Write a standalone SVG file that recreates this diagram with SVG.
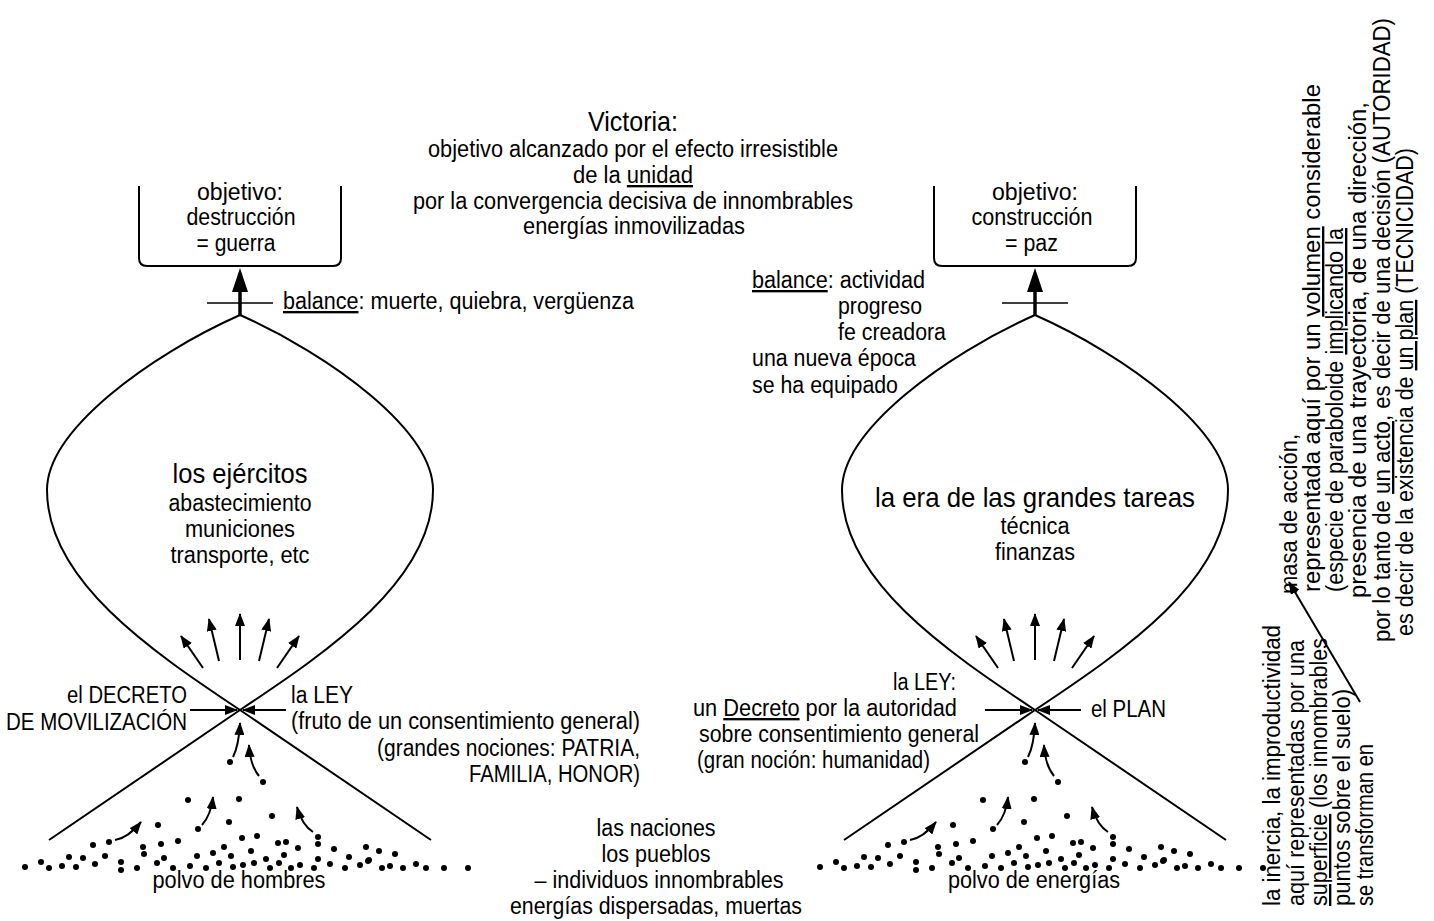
<svg xmlns="http://www.w3.org/2000/svg" xmlns:xlink="http://www.w3.org/1999/xlink" width="1434" height="921" viewBox="0 0 1434 921">
<style>
  text { font-family: "Liberation Sans", Arial, sans-serif; font-size: 23.5px; fill: #000; }
  .big { font-size: 28px; }
  .mid { text-anchor: middle; }
  .end { text-anchor: end; }
  .u { text-decoration: underline; }
  .v { font-size: 23.5px; }
  .ln { fill: none; stroke: #000; stroke-width: 2; }
  .ar { fill: none; stroke: #000; stroke-width: 2; marker-end: url(#ah); }
  .dot { fill: #000; }
</style>
<defs>
  <marker id="ah" viewBox="0 0 13 10" refX="12" refY="5" markerWidth="13" markerHeight="10" markerUnits="userSpaceOnUse" orient="auto">
    <path d="M0,0 L13,5 L0,10 z" fill="#000"/>
  </marker>
  <!-- goal bracket with the rising arrow, drawn round x = 240 -->
  <g id="goal-frame">
    <path class="ln" d="M139,186 L139,258 Q139,266 147,266 L333,266 Q341,266 341,258 L341,186"/>
    <path d="M240,316 L240,287" stroke="#000" stroke-width="3.5" fill="none"/>
    <polygon points="240,268 232,292 248,292" fill="#000"/>
    <path d="M207,303 L273,303" stroke="#000" stroke-width="1.5" fill="none"/>
  </g>
  <!-- the lens (mass of action) and the crossing lines -->
  <g id="lens-shape">
    <path class="ln" d="M240,315 C150,355 47,430 47,490 C47,580 150,650 240,710 L431,840"/>
    <path class="ln" d="M240,315 C330,355 433,430 433,490 C433,580 330,650 240,710 L49,840"/>
  </g>
  <!-- arrows fanning out above the crossing -->
  <g id="fan">
    <path class="ar" d="M203,668 L181,636"/>
    <path class="ar" d="M219,661 L209,619"/>
    <path class="ar" d="M240,660 L240,614"/>
    <path class="ar" d="M259,661 L269,619"/>
    <path class="ar" d="M277,668 L299,636"/>
    <path class="ar" d="M190,710 L237,710"/>
    <path class="ar" d="M286,710 L243,710"/>
  </g>
  <!-- curved arrows lifting particles from the ground -->
  <g id="lift">
    <path class="ar" d="M233,757 Q239,745 240,723"/>
    <path class="ar" d="M259,776 Q250,765 249,745"/>
    <path class="ar" d="M202,825 Q211,815 213,797"/>
    <path class="ar" d="M115,840 Q128,838 141,822"/>
    <path class="ar" d="M313,832 Q302,825 297,807"/>
  </g>
  <!-- scattered particles on the ground -->
  <g id="dust" class="dot">
    <circle cx="230" cy="762" r="3"/><circle cx="263" cy="782" r="3"/><circle cx="188" cy="800" r="3"/><circle cx="239" cy="799" r="3"/>
    <circle cx="229" cy="822" r="3"/><circle cx="272" cy="816" r="3"/><circle cx="158" cy="825" r="3"/><circle cx="198" cy="829" r="3"/>
    <circle cx="109" cy="842" r="3"/><circle cx="93" cy="845" r="3"/><circle cx="143" cy="847" r="3"/><circle cx="161" cy="844" r="3"/>
    <circle cx="178" cy="841" r="3"/><circle cx="144" cy="854" r="3"/><circle cx="242" cy="838" r="3"/><circle cx="257" cy="836" r="3"/>
    <circle cx="224" cy="847" r="3"/><circle cx="251" cy="851" r="3"/><circle cx="278" cy="843" r="3"/><circle cx="286" cy="842" r="3"/>
    <circle cx="298" cy="848" r="3"/><circle cx="318" cy="837" r="3"/><circle cx="318" cy="844" r="3"/><circle cx="334" cy="849" r="3"/>
    <circle cx="366" cy="847" r="3"/><circle cx="379" cy="851" r="3"/><circle cx="395" cy="854" r="3"/>
    <circle cx="69" cy="857" r="3"/><circle cx="83" cy="858" r="3"/><circle cx="105" cy="856" r="3"/><circle cx="164" cy="858" r="3"/>
    <circle cx="197" cy="856" r="3"/><circle cx="213" cy="853" r="3"/><circle cx="231" cy="856" r="3"/><circle cx="266" cy="859" r="3"/>
    <circle cx="284" cy="855" r="3"/><circle cx="318" cy="859" r="3"/><circle cx="349" cy="857" r="3"/><circle cx="369" cy="860" r="3"/>
    <circle cx="25" cy="867" r="3"/><circle cx="41" cy="862" r="3"/><circle cx="49" cy="868" r="3"/><circle cx="62" cy="866" r="3"/>
    <circle cx="76" cy="867" r="3"/><circle cx="95" cy="864" r="3"/><circle cx="121" cy="862" r="3"/><circle cx="121" cy="870" r="3"/>
    <circle cx="137" cy="868" r="3"/><circle cx="157" cy="863" r="3"/><circle cx="173" cy="868" r="3"/><circle cx="190" cy="866" r="3"/>
    <circle cx="206" cy="868" r="3"/><circle cx="219" cy="863" r="3"/><circle cx="233" cy="867" r="3"/><circle cx="243" cy="865" r="3"/>
    <circle cx="254" cy="863" r="3"/><circle cx="270" cy="868" r="3"/><circle cx="279" cy="863" r="3"/><circle cx="291" cy="868" r="3"/>
    <circle cx="300" cy="865" r="3"/><circle cx="314" cy="868" r="3"/><circle cx="330" cy="864" r="3"/><circle cx="345" cy="868" r="3"/>
    <circle cx="360" cy="865" r="3"/><circle cx="368" cy="861" r="3"/><circle cx="382" cy="868" r="3"/><circle cx="390" cy="866" r="3"/>
    <circle cx="403" cy="868" r="3"/><circle cx="416" cy="864" r="3"/><circle cx="426" cy="868" r="3"/><circle cx="444" cy="868" r="3"/>
    <circle cx="468" cy="868" r="3"/>
  </g>
</defs>

<rect width="1434" height="921" fill="#fff"/>

<!-- central heading -->
<g id="victoria">
  <text class="big mid" x="633" y="131" textLength="90" lengthAdjust="spacingAndGlyphs">Victoria:</text>
  <text class="mid" x="633" y="157" textLength="410" lengthAdjust="spacingAndGlyphs">objetivo alcanzado por el efecto irresistible</text>
  <text class="mid" x="633" y="183" textLength="120" lengthAdjust="spacingAndGlyphs">de la <tspan class="u">unidad</tspan></text>
  <text class="mid" x="633" y="209" textLength="440" lengthAdjust="spacingAndGlyphs">por la convergencia decisiva de innombrables</text>
  <text class="mid" x="634" y="234" textLength="222" lengthAdjust="spacingAndGlyphs">energías inmovilizadas</text>
</g>

<!-- ===== war side ===== -->
<g id="war-goal">
  <use xlink:href="#goal-frame"/>
  <text class="mid" x="240" y="200" textLength="86" lengthAdjust="spacingAndGlyphs">objetivo:</text>
  <text class="mid" x="241" y="225" textLength="109" lengthAdjust="spacingAndGlyphs">destrucción</text>
  <text class="mid" x="236" y="251" textLength="79" lengthAdjust="spacingAndGlyphs">= guerra</text>
</g>
<g id="war-balance">
  <text x="283" y="309" textLength="351" lengthAdjust="spacingAndGlyphs"><tspan class="u">balance</tspan>: muerte, quiebra, vergüenza</text>
</g>
<g id="war-mass">
  <use xlink:href="#lens-shape"/>
  <text class="big mid" x="240" y="483" textLength="135" lengthAdjust="spacingAndGlyphs">los ejércitos</text>
  <text class="mid" x="240" y="511" textLength="143" lengthAdjust="spacingAndGlyphs">abastecimiento</text>
  <text class="mid" x="240" y="537" textLength="110" lengthAdjust="spacingAndGlyphs">municiones</text>
  <text class="mid" x="240" y="563" textLength="139" lengthAdjust="spacingAndGlyphs">transporte, etc</text>
</g>
<g id="war-crossing">
  <text class="end" x="187" y="703" textLength="120" lengthAdjust="spacingAndGlyphs">el DECRETO</text>
  <text class="end" x="187" y="730" textLength="181" lengthAdjust="spacingAndGlyphs">DE MOVILIZACIÓN</text>
  <text x="291" y="703" textLength="62" lengthAdjust="spacingAndGlyphs">la LEY</text>
  <text x="291" y="729" textLength="349" lengthAdjust="spacingAndGlyphs">(fruto de un consentimiento general)</text>
  <text class="end" x="640" y="756" textLength="263" lengthAdjust="spacingAndGlyphs">(grandes nociones: PATRIA,</text>
  <text class="end" x="640" y="782" textLength="171" lengthAdjust="spacingAndGlyphs">FAMILIA, HONOR)</text>
</g>
<g id="war-dust">
  <use xlink:href="#dust"/>
  <text class="mid" x="239" y="888" textLength="173" lengthAdjust="spacingAndGlyphs">polvo de hombres</text>
</g>

<!-- ground label between the two sides -->
<g id="nations">
  <text class="mid" x="656" y="836" textLength="119" lengthAdjust="spacingAndGlyphs">las naciones</text>
  <text class="mid" x="656" y="862" textLength="109" lengthAdjust="spacingAndGlyphs">los pueblos</text>
  <text class="mid" x="659" y="888" textLength="249" lengthAdjust="spacingAndGlyphs">– individuos innombrables</text>
  <text class="mid" x="656" y="914" textLength="292" lengthAdjust="spacingAndGlyphs">energías dispersadas, muertas</text>
</g>

<!-- ===== peace side ===== -->
<g id="peace-goal">
  <use xlink:href="#goal-frame" x="795"/>
  <text class="mid" x="1035" y="200" textLength="86" lengthAdjust="spacingAndGlyphs">objetivo:</text>
  <text class="mid" x="1032" y="225" textLength="121" lengthAdjust="spacingAndGlyphs">construcción</text>
  <text x="1005" y="251" textLength="53" lengthAdjust="spacingAndGlyphs">= paz</text>
</g>
<g id="peace-balance">
  <text x="752" y="288" textLength="173" lengthAdjust="spacingAndGlyphs"><tspan class="u">balance</tspan>: actividad</text>
  <text x="838" y="314" textLength="84" lengthAdjust="spacingAndGlyphs">progreso</text>
  <text x="838" y="340" textLength="108" lengthAdjust="spacingAndGlyphs">fe creadora</text>
  <text x="752" y="366" textLength="164" lengthAdjust="spacingAndGlyphs">una nueva época</text>
  <text x="752" y="393" textLength="146" lengthAdjust="spacingAndGlyphs">se ha equipado</text>
</g>
<g id="peace-mass">
  <use xlink:href="#lens-shape" x="795"/>
  <text class="big mid" x="1035" y="507" textLength="320" lengthAdjust="spacingAndGlyphs">la era de las grandes tareas</text>
  <text class="mid" x="1035" y="534" textLength="69" lengthAdjust="spacingAndGlyphs">técnica</text>
  <text class="mid" x="1035" y="560" textLength="80" lengthAdjust="spacingAndGlyphs">finanzas</text>
</g>
<g id="peace-crossing">
  <text x="893" y="690" textLength="63" lengthAdjust="spacingAndGlyphs">la LEY:</text>
  <text x="693" y="716" textLength="264" lengthAdjust="spacingAndGlyphs">un <tspan class="u">Decreto</tspan> por la autoridad</text>
  <text x="699" y="742" textLength="280" lengthAdjust="spacingAndGlyphs">sobre consentimiento general</text>
  <text x="697" y="768" textLength="233" lengthAdjust="spacingAndGlyphs">(gran noción: humanidad)</text>
  <text x="1091" y="717" textLength="75" lengthAdjust="spacingAndGlyphs">el PLAN</text>
</g>
<g id="peace-dust">
  <use xlink:href="#dust" x="795"/>
  <text class="mid" x="1034" y="888" textLength="172" lengthAdjust="spacingAndGlyphs">polvo de energías</text>
</g>

<!-- arrows: fans, decree arrows and lifting particles on both sides -->
<g id="connectors">
  <use xlink:href="#fan"/>
  <use xlink:href="#lift"/>
  <use xlink:href="#fan" x="795"/>
  <use xlink:href="#lift" x="795"/>
  <path class="ar" d="M1360,702 L1289,582"/>
</g>

<!-- side notes, set vertically -->
<g id="note-inertia">
  <text class="v" transform="translate(1280,906) rotate(-90)" textLength="281" lengthAdjust="spacingAndGlyphs">la inercia, la improductividad</text>
  <text class="v" transform="translate(1304,906) rotate(-90)" textLength="266" lengthAdjust="spacingAndGlyphs">aquí representadas por una</text>
  <text class="v" transform="translate(1327,906) rotate(-90)" textLength="268" lengthAdjust="spacingAndGlyphs"><tspan class="u">superficie</tspan> (los innombrables</text>
  <text class="v" transform="translate(1350,906) rotate(-90)" textLength="217" lengthAdjust="spacingAndGlyphs">puntos sobre el suelo)</text>
  <text class="v" transform="translate(1373,906) rotate(-90)" textLength="162" lengthAdjust="spacingAndGlyphs">se transforman en</text>
</g>
<g id="note-mass">
  <text class="v" transform="translate(1297,594) rotate(-90)" textLength="160" lengthAdjust="spacingAndGlyphs">masa de acción,</text>
  <text class="v" transform="translate(1320,592) rotate(-90)" textLength="508" lengthAdjust="spacingAndGlyphs">representada aquí por un <tspan class="u">volumen</tspan> considerable</text>
  <text class="v" transform="translate(1343,592) rotate(-90)" textLength="364" lengthAdjust="spacingAndGlyphs">(especie de paraboloide <tspan class="u">implicando la</tspan></text>
  <text class="v" transform="translate(1366,598) rotate(-90)" textLength="496" lengthAdjust="spacingAndGlyphs">presencia de una trayectoria, de una dirección,</text>
  <text class="v" transform="translate(1390,642) rotate(-90)" textLength="624" lengthAdjust="spacingAndGlyphs">por lo tanto de <tspan class="u">un acto</tspan>, es decir de una decisión (AUTORIDAD)</text>
  <text class="v" transform="translate(1413,636) rotate(-90)" textLength="488" lengthAdjust="spacingAndGlyphs">es decir de la existencia de <tspan class="u">un plan</tspan> (TECNICIDAD)</text>
</g>
</svg>
